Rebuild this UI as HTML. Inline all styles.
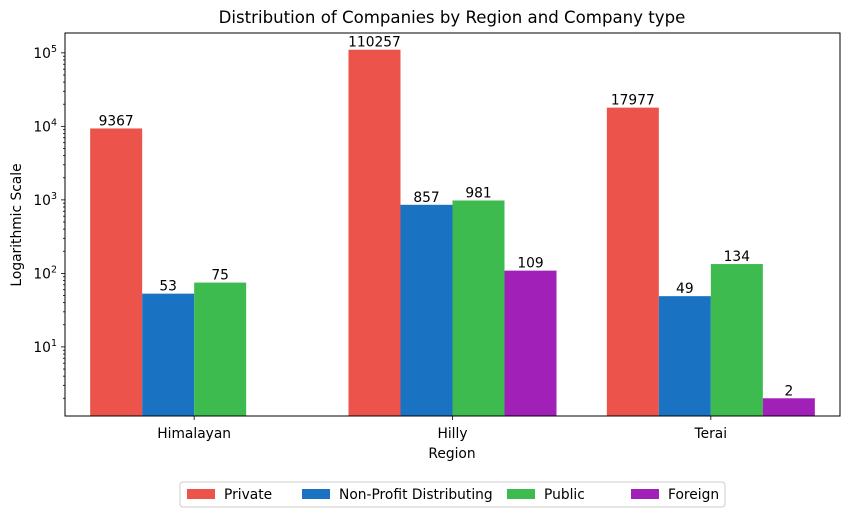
<!DOCTYPE html>
<html><head><meta charset="utf-8"><style>
body{margin:0;background:#fff;font-family:"Liberation Sans","DejaVu Sans",sans-serif}
svg text{font-family:"DejaVu Sans","Liberation Sans",sans-serif}
</style></head><body>
<svg id="chart" width="849" height="517" xmlns="http://www.w3.org/2000/svg"></svg>
<script>
const regions=["Himalayan","Hilly","Terai"];
const seriesNames=["Private","Non-Profit Distributing","Public","Foreign"];
const privateVals=[9367,110257,17977];
const nonProfitVals=[53,857,49];
const publicVals=[75,981,134];
const foreignVals=[0,109,2];
const yTickExps=[1,2,3,4,5];

const colors=["#EB534B","#1A72C2","#3EBB4E","#A020B8"];
const allSeries=[privateVals,nonProfitVals,publicVals,foreignVals];
const svg=document.getElementById('chart');
const NS="http://www.w3.org/2000/svg";
const L=65,R=840,T=33,B=416;
const FS=13.8;
const yMinLog=0.06,yMaxLog=5.27;
function y(v){return B-(Math.log10(v)-yMinLog)/(yMaxLog-yMinLog)*(B-T);}
const groupW=(R-L)/regions.length;
function xc(i){return L+groupW*(i+0.5);}
const barW=52;
function el(tag,attrs,txt){const e=document.createElementNS(NS,tag);for(const k in attrs)e.setAttribute(k,attrs[k]);if(txt!==undefined)e.textContent=txt;svg.appendChild(e);return e;}

let t=el('text',{x:452,y:23,'text-anchor':'middle','font-size':16.6},'Distribution of Companies by Region and Company type');


allSeries.forEach((vals,s)=>{
  vals.forEach((v,i)=>{
    if(!(v>0))return;
    const x=xc(i)-2*barW+s*barW;
    const yy=Math.max(y(v),T);
    const r=el('rect',{x:x,y:yy,width:barW,height:B-yy,fill:colors[s]});
    
    
    const lb=el('text',{x:x+barW/2,y:yy-3,'text-anchor':'middle','font-size':FS},String(v));
    
    
  });
});

const frame=el('rect',{x:L,y:T,width:R-L,height:B-T,fill:'none',stroke:'#000','stroke-width':1});


for(let e=0;e<=5;e++){
  for(let m=2;m<=9;m++){
    const v=m*Math.pow(10,e);const yy=y(v);
    if(yy<T||yy>B)continue;
    el('line',{x1:L-2,x2:L,y1:yy,y2:yy,stroke:'#000','stroke-width':0.8});
  }
}
yTickExps.forEach(e=>{
  const yy=y(Math.pow(10,e));
  el('line',{x1:L-4,x2:L,y1:yy,y2:yy,stroke:'#000','stroke-width':0.8});
  const tx=el('text',{x:L-8,y:yy+5,'text-anchor':'end','font-size':FS},'10');
  
  const ts=document.createElementNS(NS,'tspan');ts.setAttribute('dy','-6');ts.setAttribute('font-size','9.5');ts.textContent=String(e);tx.appendChild(ts);
});
regions.forEach((r,i)=>{
  el('line',{x1:xc(i),x2:xc(i),y1:B,y2:B+4,stroke:'#000','stroke-width':0.8});
  const tx=el('text',{x:xc(i),y:B+22,'text-anchor':'middle','font-size':FS},r);
  
});
t=el('text',{x:452,y:458,'text-anchor':'middle','font-size':FS},'Region');

t=el('text',{x:21,y:225,'text-anchor':'middle','font-size':FS,transform:'rotate(-90 21 225)'},'Logarithmic Scale');


const lg=el('rect',{x:180,y:482,width:545,height:25,rx:3,fill:'#fff',stroke:'#ccc'});

const lx=[187,302,507,631];
seriesNames.forEach((n,s)=>{
  const sw=el('rect',{x:lx[s],y:489,width:28,height:10,fill:colors[s]});
  
  const tx=el('text',{x:lx[s]+37,y:499,'font-size':FS},n);
  
});
</script>
</body></html>
